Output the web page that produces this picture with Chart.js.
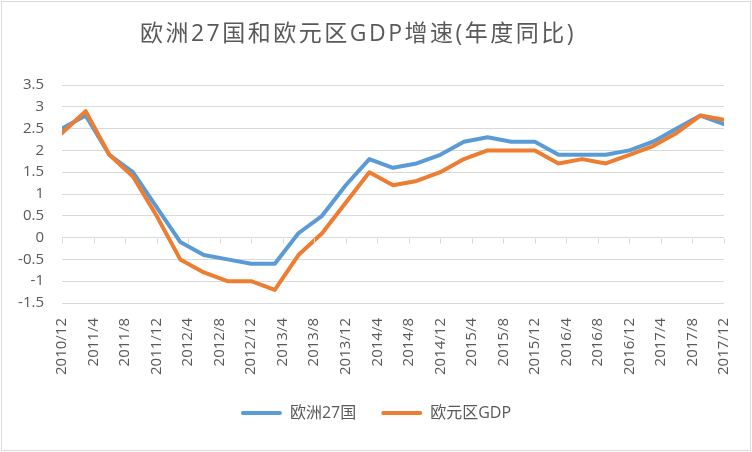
<!DOCTYPE html>
<html>
<head>
<meta charset="utf-8">
<script src="https://cdn.jsdelivr.net/npm/chart.js@4.4.1/dist/chart.umd.min.js"></script>
<style>
html,body{margin:0;padding:0;background:#ffffff;}
#wrap{width:752px;height:452px;position:relative;}
</style>
</head>
<body>
<div id="wrap"><canvas id="c" width="752" height="452"></canvas></div>
<script>
const titleText = '欧洲27国和欧元区GDP增速(年度同比)';
const seriesNames = ['欧洲27国', '欧元区GDP'];
const categories = ['2010/12','2011/3','2011/6','2011/9','2011/12','2012/3','2012/6','2012/9','2012/12',
  '2013/3','2013/6','2013/9','2013/12','2014/3','2014/6','2014/9','2014/12','2015/3','2015/6','2015/9',
  '2015/12','2016/3','2016/6','2016/9','2016/12','2017/3','2017/6','2017/9','2017/12'];
const eu27 = [2.5,2.8,1.9,1.5,0.7,-0.1,-0.4,-0.5,-0.6,-0.6,0.1,0.5,1.2,1.8,1.6,1.7,1.9,2.2,2.3,2.2,
  2.2,1.9,1.9,1.9,2.0,2.2,2.5,2.8,2.6];
const euroArea = [2.4,2.9,1.9,1.4,0.5,-0.5,-0.8,-1.0,-1.0,-1.2,-0.4,0.1,0.8,1.5,1.2,1.3,1.5,1.8,2.0,2.0,
  2.0,1.7,1.8,1.7,1.9,2.1,2.4,2.8,2.7];
const xTickLabels = ['2010/12','2011/4','2011/8','2011/12','2012/4','2012/8','2012/12','2013/4','2013/8',
  '2013/12','2014/4','2014/8','2014/12','2015/4','2015/8','2015/12','2016/4','2016/8','2016/12',
  '2017/4','2017/8','2017/12'];
const yTicks = [-1.5,-1,-0.5,0,0.5,1,1.5,2,2.5,3,3.5];

// month index relative to 2010/12
function monthIndex(label) {
  const [y, m] = label.split('/').map(Number);
  return (y - 2010) * 12 + m - 12;
}
const xMin = monthIndex(xTickLabels[0]);
const xMax = monthIndex(xTickLabels[xTickLabels.length - 1]);
const tickLabelByIndex = {};
xTickLabels.forEach(l => { tickLabelByIndex[monthIndex(l)] = l; });

const toPoints = vals => categories.map((c, i) => ({ x: monthIndex(c), y: vals[i] }));

const TEXT = '#595959';
const GRID = '#d9d9d9';
const FAMILY = '"Open Sans", "Noto Sans CJK SC", sans-serif';

const framePlugin = {
  id: 'frame',
  afterLayout(chart) {
    // centre the legend on the canvas like the reference
    if (chart.legend) { chart.legend.left += 14; chart.legend.right += 14; }
  },
  beforeDraw(chart) {
    const ctx = chart.ctx;
    ctx.save();
    ctx.fillStyle = '#ffffff';
    ctx.fillRect(0, 0, chart.width, chart.height);
    ctx.strokeStyle = GRID;
    ctx.lineWidth = 1;
    ctx.strokeRect(1.5, 1.5, chart.width - 3, chart.height - 3);
    ctx.fillStyle = TEXT;
    ctx.font = '23px ' + FAMILY;
    if ('letterSpacing' in ctx) ctx.letterSpacing = '2.5px';
    ctx.textAlign = 'center';
    ctx.textBaseline = 'middle';
    ctx.fillText(titleText, 358, 34);
    ctx.restore();
  },
  afterDatasetsDraw(chart) {
    // tick marks under the zero line (category axis crossing at 0)
    const { x, y } = chart.scales;
    const ctx = chart.ctx;
    const y0 = Math.round(y.getPixelForValue(0)) + 0.5;
    ctx.save();
    ctx.strokeStyle = GRID;
    ctx.lineWidth = 1;
    ctx.beginPath();
    xTickLabels.forEach(l => {
      const px = Math.round(x.getPixelForValue(monthIndex(l))) + 0.5;
      ctx.moveTo(px, y0);
      ctx.lineTo(px, y0 + 5);
    });
    ctx.stroke();
    ctx.restore();
  }
};

new Chart(document.getElementById('c'), {
  type: 'line',
  data: {
    datasets: [
      { label: seriesNames[0], data: toPoints(eu27), borderColor: '#5B9BD5', backgroundColor: '#5B9BD5',
        borderWidth: 4, pointRadius: 0, tension: 0, borderJoinStyle: 'round', borderCapStyle: 'round', order: 2 },
      { label: seriesNames[1], data: toPoints(euroArea), borderColor: '#ED7D31', backgroundColor: '#ED7D31',
        borderWidth: 4, pointRadius: 0, tension: 0, borderJoinStyle: 'round', borderCapStyle: 'round', order: 1 }
    ]
  },
  options: {
    responsive: false,
    animation: false,
    devicePixelRatio: 1,
    layout: { padding: { left: 0, right: 28, top: 85, bottom: 21 } },
    plugins: {
      title: { display: false },
      tooltip: { enabled: false },
      legend: {
        position: 'bottom',
        labels: {
          boxWidth: 41, boxHeight: 4, padding: 25, color: TEXT,
          font: { size: 16, family: FAMILY },
          sort: (a, b) => a.datasetIndex - b.datasetIndex,
          generateLabels: chart => Chart.defaults.plugins.legend.labels.generateLabels(chart)
            .map(l => Object.assign(l, { lineWidth: 0, fillStyle: l.strokeStyle, borderRadius: 2 }))
        }
      }
    },
    scales: {
      x: {
        type: 'linear', position: 'bottom', min: xMin, max: xMax,
        afterBuildTicks: s => { s.ticks = xTickLabels.map(l => ({ value: monthIndex(l) })); },
        afterFit: s => { s.height = 77; s.paddingLeft = 0; s.paddingRight = 0; },
        ticks: { callback: v => tickLabelByIndex[v], autoSkip: false, maxRotation: 90, minRotation: 90,
          padding: 15, color: TEXT, font: { size: 15, family: FAMILY } },
        grid: { display: false, drawTicks: false },
        border: { display: false }
      },
      y: {
        min: yTicks[0], max: yTicks[yTicks.length - 1],
        afterBuildTicks: s => { s.ticks = yTicks.map(v => ({ value: v })); },
        afterFit: s => { s.width = 62; s.paddingTop = 0; s.paddingBottom = 0; },
        ticks: { callback: v => String(v), padding: 18, color: TEXT, font: { size: 15, family: FAMILY } },
        grid: { color: GRID, drawTicks: false },
        border: { display: false }
      }
    }
  },
  plugins: [framePlugin]
});
</script>
</body>
</html>
